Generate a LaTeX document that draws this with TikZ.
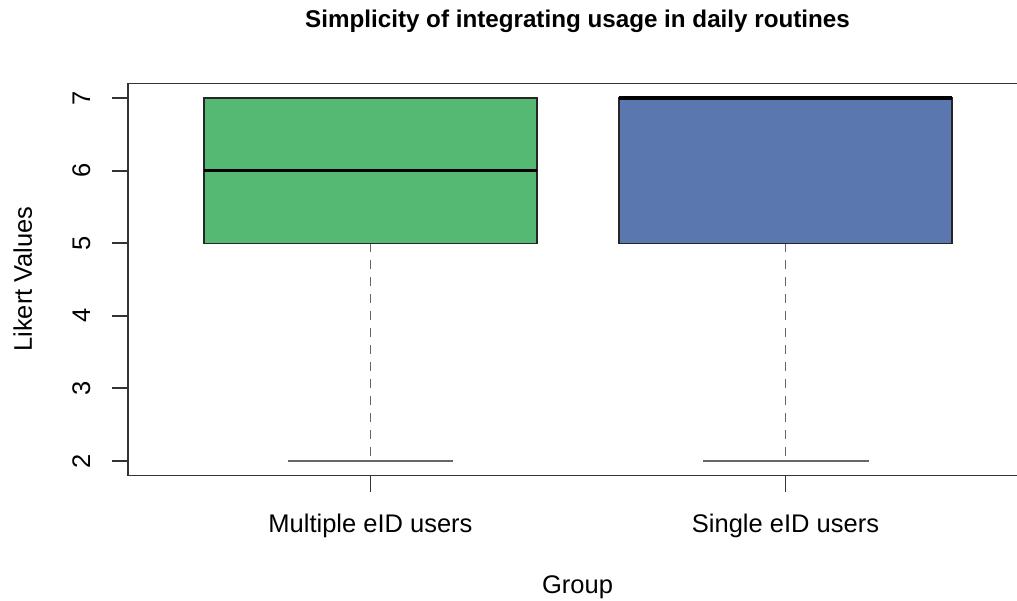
\documentclass[tikz,border=0pt]{standalone}
\usepackage{fontspec}
\setmainfont{Liberation Sans}
\definecolor{multigreen}{HTML}{55B973}
\definecolor{singleblue}{HTML}{5A78AF}
\begin{document}
\begin{tikzpicture}[x=1pt, y=1pt,
		lab/.style = {font=\fontsize{25.5}{30}\selectfont, inner sep=0pt},
		ttl/.style = {font=\fontsize{24.2}{28}\selectfont\bfseries, inner sep=0pt},
		boxp/.style = {draw=black!85, line width=1.3pt},
		med/.style = {line width=3.8pt},
		whisk/.style = {draw=black!60, line width=1.6pt, dash pattern=on 9pt off 8pt},
		capl/.style = {draw=black!60, line width=1.6pt},
		frame/.style = {draw=black!80, line width=1.9pt}]
	\useasboundingbox (0,0) rectangle (1017,600);
	\begin{scope}[yshift=-6.2pt, y=72.6pt]
		% frame and y axis
		\draw[frame] (1017,7.2) -- (128,7.2) -- (128,1.8) -- (1017,1.8);
		\foreach \v in {2,...,7} {
			\draw[frame] (112,\v) -- (128,\v);
			\node[lab, rotate=90, anchor=base] (t\v) at (90,\v) {\v};
		}
		\draw[frame] (370.5,1.8) -- ++(0pt,-16pt);
		\draw[frame] (785.5,1.8) -- ++(0pt,-16pt);

		% multiple eID users
		\coordinate (b1) at (370.5,5);
		\coordinate (w1) at (370.5,2);
		\coordinate (c1l) at (288,2);
		\coordinate (c1r) at (453,2);
		\draw[whisk] (b1) -- (w1);
		\draw[capl] (c1l) -- (c1r);
		\draw[boxp, fill=multigreen] (204,5) rectangle (537,7);
		\draw[med] (204,6) -- (537,6);

		% single eID users
		\coordinate (b2) at (785.5,5);
		\coordinate (w2) at (785.5,2);
		\coordinate (c2l) at (703,2);
		\coordinate (c2r) at (869,2);
		\draw[whisk] (b2) -- (w2);
		\draw[capl] (c2l) -- (c2r);
		\draw[boxp, fill=singleblue] (619,5) rectangle (952,7);
		\draw[med] (619,7) -- (952,7);
	\end{scope}

	\node[ttl, anchor=base] (title) at (577.5,572) {Simplicity of integrating usage in daily routines};
	\node[lab, anchor=base] (g1) at (370.5,68) {Multiple eID users};
	\node[lab, anchor=base] (g2) at (785.5,68) {Single eID users};
	\node[lab, anchor=base] (xlab) at (577.5,7) {Group};
	\node[lab, rotate=90, anchor=base] (ylab) at (32,321) {Likert Values};
\end{tikzpicture}
\end{document}
